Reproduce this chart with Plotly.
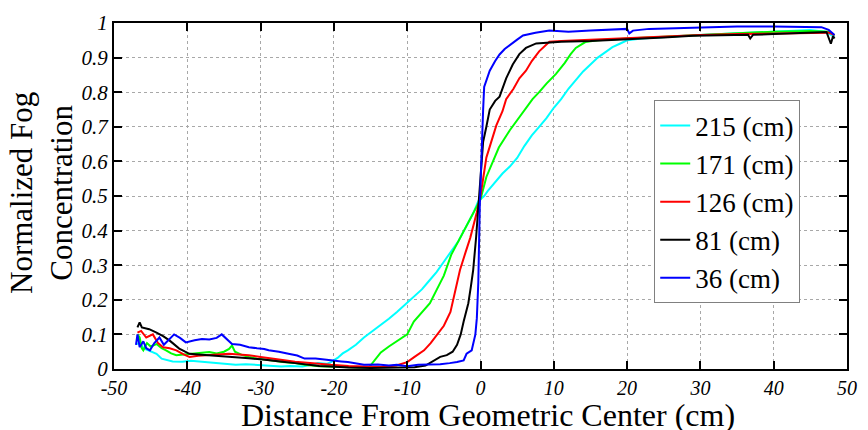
import plotly.graph_objects as go

# ---- data ----
labels = ["215 (cm)", "171 (cm)", "126 (cm)", "81 (cm)", "36 (cm)"]
colors = ["#00FFFF", "#00FF00", "#FF0000", "#000000", "#0000FF"]

x_215 = [-46.8, -46.5, -46.0, -45.5, -45.0, -44.2, -43.5, -42.9, -42.0, -40.7, -39.5, -38.0, -36.8, -35.7,
         -34.5, -33.4, -32.0, -30.3, -29.0, -27.2, -26.0, -24.3, -23.0, -22.2, -21.0, -20.4, -19.5, -18.8,
         -18.1, -17.0, -15.9, -14.8, -13.6, -12.5, -11.4, -10.6, -10.0, -9.0, -8.0, -7.0, -6.0, -5.0, -4.0,
         -3.0, -2.0, -1.0, -0.3, 0.5, 1.0, 2.0, 3.0, 4.0, 5.0, 6.0, 7.0, 8.0, 9.0, 10.0, 11.0, 12.0, 13.0,
         14.0, 15.0, 16.0, 17.0, 18.0, 19.0, 20.0, 22.0, 25.0, 28.0, 30.0, 33.0, 36.0, 40.0, 43.0, 45.0,
         47.0, 48.3]
y_215 = [0.07, 0.08, 0.06, 0.055, 0.05, 0.044, 0.03, 0.026, 0.022, 0.021, 0.024, 0.021, 0.019, 0.017,
         0.014, 0.012, 0.014, 0.012, 0.009, 0.007, 0.009, 0.007, 0.012, 0.017, 0.015, 0.02, 0.032, 0.045,
         0.054, 0.07, 0.091, 0.108, 0.128, 0.145, 0.165, 0.18, 0.193, 0.21, 0.23, 0.255, 0.28, 0.31, 0.34,
         0.37, 0.41, 0.45, 0.485, 0.5, 0.515, 0.54, 0.565, 0.585, 0.61, 0.645, 0.675, 0.70, 0.725, 0.755,
         0.78, 0.81, 0.835, 0.86, 0.88, 0.90, 0.915, 0.93, 0.94, 0.95, 0.955, 0.96, 0.963, 0.965, 0.968,
         0.972, 0.975, 0.978, 0.98, 0.975, 0.96]

x_171 = [-46.8, -46.5, -46.2, -46.0, -45.5, -45.0, -44.2, -43.5, -42.9, -42.2, -41.5, -40.5, -39.7, -38.5,
         -37.0, -36.0, -35.0, -34.3, -33.9, -33.5, -32.5, -31.6, -30.5, -28.9, -27.0, -25.3, -24.0, -22.0,
         -20.0, -18.0, -16.5, -15.2, -14.5, -13.6, -12.5, -11.5, -10.0, -9.1, -8.0, -6.9, -5.95, -5.0, -4.0,
         -3.0, -2.3, -1.5, -0.5, 0.0, 0.8, 1.5, 2.5, 4.0, 5.0, 6.0, 7.1, 8.0, 9.0, 10.3, 11.5, 12.3, 13.0,
         14.3, 16.0, 18.0, 20.0, 25.0, 30.0, 35.0, 40.0, 45.0, 47.5, 48.3]
y_171 = [0.1, 0.091, 0.06, 0.054, 0.075, 0.065, 0.072, 0.06, 0.054, 0.045, 0.04, 0.042, 0.044, 0.046,
         0.049, 0.045, 0.05, 0.058, 0.068, 0.05, 0.04, 0.035, 0.03, 0.026, 0.02, 0.017, 0.012, 0.008,
         0.006, 0.005, 0.004, 0.005, 0.025, 0.048, 0.065, 0.08, 0.1, 0.137, 0.165, 0.19, 0.23, 0.27, 0.33,
         0.37, 0.40, 0.43, 0.47, 0.49, 0.555, 0.59, 0.64, 0.69, 0.72, 0.75, 0.78, 0.80, 0.825, 0.853, 0.885,
         0.91, 0.928, 0.945, 0.95, 0.952, 0.955, 0.96, 0.965, 0.97, 0.975, 0.977, 0.975, 0.965]

x_126 = [-46.8, -46.3, -45.6, -44.7, -44.0, -43.3, -42.4, -41.5, -40.5, -39.7, -38.5, -37.0, -35.5, -34.3,
         -33.0, -31.6, -30.0, -28.9, -27.0, -25.3, -23.5, -22.0, -20.4, -18.0, -15.9, -13.5, -11.5, -10.0,
         -9.0, -7.7, -6.8, -5.9, -5.0, -4.1, -3.5, -2.8, -2.0, -1.4, -0.5, 0.0, 0.8, 1.5, 2.16, 3.0, 3.5,
         4.5, 5.3, 6.2, 7.0, 8.0, 9.4, 11.0, 13.0, 15.0, 20.0, 25.0, 30.0, 35.0, 40.0, 45.0, 47.5, 48.3]
y_126 = [0.105, 0.11, 0.091, 0.1, 0.075, 0.063, 0.06, 0.054, 0.042, 0.035, 0.038, 0.04, 0.042, 0.044,
         0.042, 0.04, 0.035, 0.031, 0.026, 0.021, 0.017, 0.014, 0.012, 0.009, 0.007, 0.006, 0.01, 0.02,
         0.035, 0.054, 0.075, 0.1, 0.125, 0.165, 0.22, 0.286, 0.34, 0.379, 0.453, 0.5, 0.611, 0.66, 0.704,
         0.745, 0.78, 0.81, 0.84, 0.862, 0.89, 0.918, 0.946, 0.948, 0.95, 0.95, 0.955, 0.96, 0.965, 0.968,
         0.97, 0.972, 0.972, 0.965]

x_81 = [-46.8, -46.5, -46.2, -45.2, -44.2, -43.3, -42.4, -41.7, -41.1, -40.3, -39.7, -38.5, -37.0, -35.5,
        -34.3, -33.0, -31.6, -30.0, -28.9, -27.0, -25.3, -23.5, -22.0, -20.4, -18.0, -15.0, -12.0, -9.0,
        -7.5, -6.4, -5.5, -4.6, -3.8, -3.2, -2.7, -2.3, -1.66, -1.3, -1.0, -0.6, -0.3, 0.0, 0.36, 0.8,
        1.26, 2.0, 2.6, 3.5, 4.4, 5.3, 6.2, 7.6, 9.0, 11.0, 15.0, 20.0, 25.0, 29.0, 33.0, 36.5, 36.8,
        37.2, 40.0, 44.0, 47.2, 47.8, 48.1, 48.3]
y_81 = [0.12, 0.135, 0.12, 0.115, 0.105, 0.095, 0.082, 0.07, 0.059, 0.05, 0.044, 0.042, 0.04, 0.038,
        0.035, 0.033, 0.031, 0.028, 0.026, 0.021, 0.017, 0.012, 0.009, 0.007, 0.004, 0.003, 0.003, 0.005,
        0.01, 0.025, 0.035, 0.04, 0.05, 0.07, 0.1, 0.137, 0.19, 0.24, 0.286, 0.38, 0.47, 0.54, 0.657, 0.70,
        0.75, 0.775, 0.787, 0.84, 0.88, 0.91, 0.928, 0.941, 0.943, 0.946, 0.948, 0.952, 0.958, 0.963,
        0.965, 0.966, 0.955, 0.966, 0.968, 0.972, 0.974, 0.94, 0.962, 0.955]

x_36 = [-47.0, -46.8, -46.5, -46.0, -45.6, -45.1, -44.5, -43.8, -43.2, -42.5, -41.8, -41.0, -40.2, -39.0,
        -38.0, -37.0, -36.0, -35.3, -34.6, -33.9, -32.8, -31.6, -30.5, -29.5, -28.9, -27.5, -26.2, -25.0,
        -24.0, -22.5, -21.0, -20.4, -19.0, -18.1, -17.0, -15.9, -14.0, -12.5, -11.4, -10.0, -8.5, -6.9,
        -5.5, -4.2, -3.2, -2.3, -1.9, -1.2, -0.7, -0.5, -0.3, -0.1, 0.1, 0.36, 0.5, 1.26, 2.0, 2.6, 3.3,
        4.0, 5.0, 5.8, 7.5, 9.4, 12.0, 15.0, 18.0, 20.0, 20.3, 20.8, 23.0, 26.0, 30.0, 35.0, 40.0, 44.0,
        46.5, 47.5, 48.3]
y_36 = [0.07, 0.1, 0.063, 0.08, 0.06, 0.054, 0.075, 0.091, 0.07, 0.085, 0.1, 0.09, 0.077, 0.083,
        0.087, 0.085, 0.09, 0.1, 0.085, 0.072, 0.07, 0.063, 0.06, 0.058, 0.054, 0.05, 0.044, 0.039,
        0.03, 0.03, 0.027, 0.025, 0.022, 0.02, 0.015, 0.012, 0.013, 0.01, 0.012, 0.008, 0.012, 0.012,
        0.014, 0.017, 0.02, 0.025, 0.044, 0.054, 0.1, 0.147, 0.25, 0.47, 0.62, 0.75, 0.815, 0.862, 0.89,
        0.909, 0.925, 0.937, 0.952, 0.964, 0.972, 0.978, 0.975, 0.978, 0.98, 0.983, 0.97, 0.978, 0.983,
        0.985, 0.988, 0.99, 0.99, 0.99, 0.988, 0.98, 0.965]

xs = [x_215, x_171, x_126, x_81, x_36]
ys = [y_215, y_171, y_126, y_81, y_36]

x_ticks = [-50, -40, -30, -20, -10, 0, 10, 20, 30, 40, 50]
y_ticks = [0, 0.1, 0.2, 0.3, 0.4, 0.5, 0.6, 0.7, 0.8, 0.9, 1]

FONT = "Liberation Serif"

fig = go.Figure()
for lab, col, xv, yv in zip(labels, colors, xs, ys):
    fig.add_trace(go.Scatter(x=xv, y=yv, mode="lines", name=lab,
                             line=dict(color=col, width=2)))

axis_common = dict(
    showline=True, linecolor="black", linewidth=2, mirror="ticks",
    ticks="inside", ticklen=8, tickwidth=2, tickcolor="black",
    showgrid=True, gridcolor="#a8a8a8", gridwidth=1, griddash="dot",
    zeroline=False,
)

fig.update_layout(
    width=868, height=430,
    margin=dict(l=114, r=13, t=11, b=61),
    paper_bgcolor="white", plot_bgcolor="white",
    font=dict(family=FONT, color="black"),
    xaxis=dict(range=[-50, 50], tickvals=x_ticks, ticktext=[str(v) for v in x_ticks], ticklabelstandoff=0,
               tickfont=dict(family=FONT, size=20, color="black", style="italic"),
               **axis_common),
    yaxis=dict(range=[0, 1], tickvals=y_ticks,
               ticktext=["0", "0.1", "0.2", "0.3", "0.4", "0.5", "0.6", "0.7", "0.8", "0.9", "1"],
               tickfont=dict(family=FONT, size=21, color="black", style="italic"),
               **axis_common),
    legend=dict(x=0.737, y=0.483, xanchor="left", yanchor="middle",
                bgcolor="white", bordercolor="#808080", borderwidth=1,
                font=dict(family=FONT, size=27, color="black"),
                tracegroupgap=0, itemwidth=30),
    showlegend=True,
    annotations=[
        dict(text="Distance From Geometric Center (cm)", xref="paper", yref="paper",
             x=0.51, y=-0.133, xanchor="center", yanchor="middle", showarrow=False,
             font=dict(family=FONT, size=32, color="black")),
        dict(text="Normalized Fog<br>Concentration", xref="paper", yref="paper",
             x=-0.099, y=0.51, xanchor="center", yanchor="middle", showarrow=False,
             textangle=-90, font=dict(family=FONT, size=31, color="black")),
    ],
)

fig.write_html("out.html")
